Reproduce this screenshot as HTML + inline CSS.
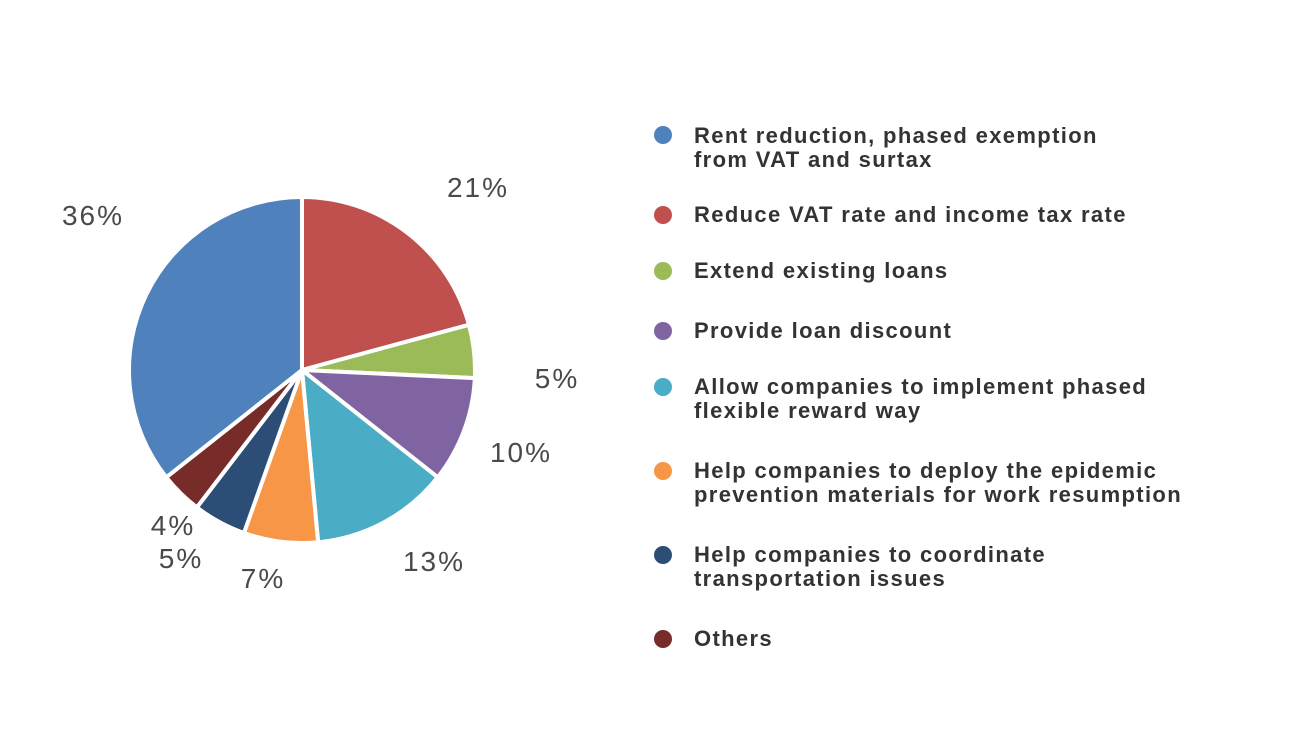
<!DOCTYPE html>
<html><head><meta charset="utf-8"><style>
body{margin:0;background:#fff;width:1302px;height:744px;overflow:hidden;font-family:"Liberation Sans",sans-serif;}
.lg{position:absolute;left:694px;font-weight:bold;font-size:22px;letter-spacing:1.35px;color:#333;line-height:24px;white-space:nowrap;}
.dot{position:absolute;left:654px;width:18px;height:18px;border-radius:50%;}
.pl{font-family:"Liberation Sans",sans-serif;font-size:28px;letter-spacing:2px;fill:#4a4a4a;text-anchor:middle;}
</style></head><body>
<svg id="s" width="1302" height="744" style="position:absolute;left:0;top:0">
<g id="pie"></g>
<text class="pl" x="93" y="225">36%</text>
<text class="pl" x="478" y="197">21%</text>
<text class="pl" x="557" y="388">5%</text>
<text class="pl" x="521" y="462">10%</text>
<text class="pl" x="434" y="571">13%</text>
<text class="pl" x="263" y="588">7%</text>
<text class="pl" x="181" y="568">5%</text>
<text class="pl" x="173" y="535">4%</text>
</svg>
<div class="dot" style="top:126px;background:#4f81bd"></div>
<div class="lg" style="top:124px">Rent reduction, phased exemption<br>from VAT and surtax</div>
<div class="dot" style="top:206px;background:#c0504d"></div>
<div class="lg" style="top:203px">Reduce VAT rate and income tax rate</div>
<div class="dot" style="top:262px;background:#9bbb59"></div>
<div class="lg" style="top:259px">Extend existing loans</div>
<div class="dot" style="top:322px;background:#8064a2"></div>
<div class="lg" style="top:319px">Provide loan discount</div>
<div class="dot" style="top:378px;background:#4bacc6"></div>
<div class="lg" style="top:375px">Allow companies to implement phased<br>flexible reward way</div>
<div class="dot" style="top:462px;background:#f79646"></div>
<div class="lg" style="top:459px">Help companies to deploy the epidemic<br>prevention materials for work resumption</div>
<div class="dot" style="top:546px;background:#2c4d75"></div>
<div class="lg" style="top:543px">Help companies to coordinate<br>transportation issues</div>
<div class="dot" style="top:630px;background:#772c2a"></div>
<div class="lg" style="top:627px">Others</div>
<script>
var d=[[21,"#c0504d"],[5,"#9bbb59"],[10,"#8064a2"],[13,"#4bacc6"],[7,"#f79646"],[5,"#2c4d75"],[4,"#772c2a"],[36,"#4f81bd"]];
var cx=302,cy=370,r=173,a=0,h="";
function pt(t){return [cx+r*Math.sin(t),cy-r*Math.cos(t)];}
d.forEach(function(s){var b=a+s[0]/101*2*Math.PI;var p=pt(a),q=pt(b);
h+='<path d="M'+cx+','+cy+'L'+p[0]+','+p[1]+'A'+r+','+r+' 0 '+((b-a)>Math.PI?1:0)+' 1 '+q[0]+','+q[1]+'Z" fill="'+s[1]+'" stroke="#fff" stroke-width="4" stroke-linejoin="round"/>';a=b;});
document.getElementById("pie").innerHTML=h;
</script>
</body></html>
